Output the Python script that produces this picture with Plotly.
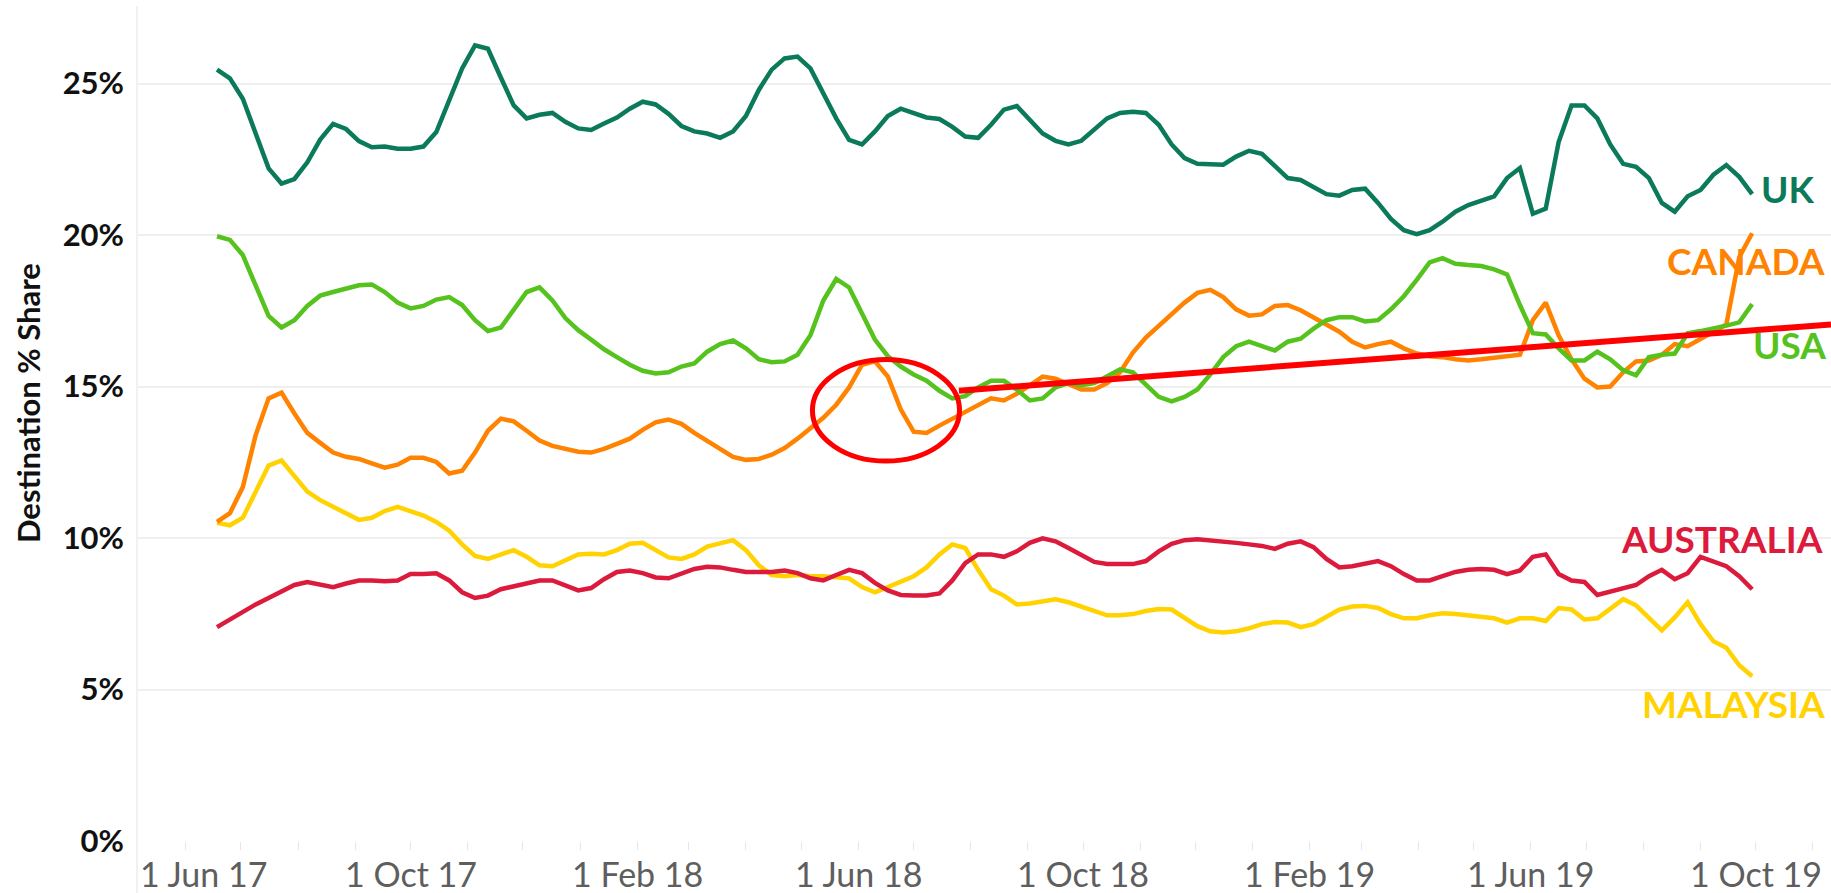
import pandas as pd
import plotly.graph_objects as go

# ---------------- data (weekly, % share) ----------------
week_start = "2017-06-18"
n_weeks = 120
dates = pd.date_range(week_start, periods=n_weeks, freq="7D")

uk = [25.46, 25.17, 24.5, 23.35, 22.2, 21.7, 21.85, 22.4, 23.15, 23.67,
      23.5, 23.1, 22.9, 22.92, 22.85, 22.85, 22.92, 23.4, 24.43, 25.5,
      26.26, 26.15, 25.2, 24.28, 23.85, 23.97, 24.03, 23.74, 23.52, 23.47,
      23.68, 23.88, 24.17, 24.4, 24.31, 24.0, 23.6, 23.42, 23.35, 23.21,
      23.42, 23.93, 24.79, 25.46, 25.83, 25.89, 25.5, 24.71, 23.85, 23.14,
      22.99, 23.42, 23.93, 24.17, 24.03, 23.88, 23.83, 23.57, 23.25, 23.21,
      23.64, 24.14, 24.26, 23.78, 23.35, 23.11, 22.99, 23.11, 23.5, 23.85,
      24.03, 24.07, 24.03, 23.64, 22.99, 22.54, 22.35, 22.32, 22.32, 22.59,
      22.78, 22.68, 22.28, 21.88, 21.82, 21.59, 21.35, 21.3, 21.49, 21.53,
      21.06, 20.53, 20.16, 20.03, 20.16, 20.44, 20.77, 20.99, 21.13, 21.28,
      21.88, 22.21, 20.7, 20.87, 23.07, 24.28, 24.28, 23.85, 22.99, 22.35,
      22.25, 21.88, 21.06, 20.77, 21.28, 21.49, 21.99, 22.31, 21.92, 21.35]

usa = [19.96, 19.84, 19.34, 18.34, 17.33, 16.95, 17.19, 17.66, 18.0, 18.12,
       18.24, 18.34, 18.37, 18.12, 17.77, 17.58, 17.66, 17.87, 17.95, 17.69,
       17.19, 16.83, 16.95, 17.52, 18.12, 18.27, 17.84, 17.26, 16.86, 16.55,
       16.23, 15.97, 15.72, 15.52, 15.43, 15.47, 15.66, 15.76, 16.15, 16.4,
       16.52, 16.26, 15.9, 15.8, 15.83, 16.05, 16.69, 17.84, 18.55, 18.27,
       17.41, 16.55, 16.0, 15.66, 15.4, 15.19, 14.86, 14.61, 14.68, 14.97,
       15.19, 15.19, 14.9, 14.54, 14.61, 14.97, 15.11, 15.04, 15.11, 15.33,
       15.57, 15.47, 15.04, 14.66, 14.51, 14.66, 14.9, 15.4, 15.97, 16.33,
       16.48, 16.33, 16.19, 16.48, 16.58, 16.91, 17.19, 17.29, 17.29, 17.15,
       17.19, 17.55, 17.98, 18.52, 19.1, 19.24, 19.05, 19.01, 18.98, 18.87,
       18.7, 17.69, 16.76, 16.72, 16.26, 15.86, 15.86, 16.15, 15.9, 15.54,
       15.37, 15.97, 16.05, 16.09, 16.76, 16.83, 16.91, 17.01, 17.12, 17.72]

canada = [10.53, 10.82, 11.68, 13.4, 14.61, 14.8, 14.11, 13.47, 13.14, 12.82,
          12.68, 12.61, 12.46, 12.32, 12.42, 12.65, 12.65, 12.51, 12.13, 12.22,
          12.82, 13.54, 13.94, 13.85, 13.54, 13.22, 13.04, 12.94, 12.85, 12.82,
          12.94, 13.11, 13.28, 13.57, 13.82, 13.91, 13.77, 13.47, 13.22, 12.97,
          12.68, 12.58, 12.61, 12.75, 12.97, 13.28, 13.61, 13.97, 14.4, 14.97,
          15.72, 15.83, 15.33, 14.25, 13.51, 13.47, 13.71, 13.94, 14.14, 14.4,
          14.61, 14.54, 14.76, 15.04, 15.33, 15.26, 15.09, 14.9, 14.9, 15.11,
          15.47, 16.12, 16.62, 17.01, 17.38, 17.77, 18.09, 18.19, 17.95, 17.55,
          17.34, 17.38, 17.66, 17.69, 17.52, 17.29, 17.05, 16.81, 16.48, 16.29,
          16.4, 16.48, 16.26, 16.09, 16.0, 15.97, 15.9, 15.86, 15.9, 15.95,
          16.0, 16.05, 17.19, 17.77, 16.69, 15.9, 15.26, 14.97, 15.0, 15.47,
          15.83, 15.86, 16.05, 16.4, 16.33, 16.55, 16.81, 17.05, 19.27, 20.06]

malaysia = [10.5, 10.42, 10.67, 11.53, 12.39, 12.56, 12.03, 11.53, 11.25, 11.03,
            10.82, 10.6, 10.67, 10.89, 11.03, 10.89, 10.74, 10.53, 10.24, 9.79,
            9.41, 9.31, 9.46, 9.6, 9.38, 9.1, 9.07, 9.27, 9.46, 9.48,
            9.46, 9.6, 9.81, 9.84, 9.6, 9.36, 9.31, 9.46, 9.72, 9.84,
            9.93, 9.6, 9.1, 8.78, 8.74, 8.78, 8.74, 8.74, 8.7, 8.67,
            8.38, 8.21, 8.38, 8.55, 8.74, 9.03, 9.46, 9.79, 9.67, 8.95,
            8.31, 8.1, 7.81, 7.84, 7.92, 7.98, 7.88, 7.74, 7.59, 7.45,
            7.45, 7.49, 7.59, 7.66, 7.64, 7.38, 7.09, 6.92, 6.88, 6.92,
            7.02, 7.16, 7.23, 7.21, 7.06, 7.16, 7.41, 7.64, 7.74, 7.76,
            7.69, 7.49, 7.35, 7.35, 7.45, 7.52, 7.49, 7.45, 7.41, 7.35,
            7.21, 7.35, 7.35, 7.26, 7.69, 7.64, 7.31, 7.35, 7.66, 7.98,
            7.78, 7.38, 6.95, 7.38, 7.88, 7.16, 6.59, 6.38, 5.8, 5.44]

australia = [7.06, 7.31, 7.59, 7.81, 8.02, 8.24, 8.45, 8.55, 8.45, 8.38,
             8.5, 8.6, 8.6, 8.57, 8.6, 8.81, 8.81, 8.84, 8.6, 8.21,
             8.02, 8.1, 8.31, 8.41, 8.5, 8.6, 8.6, 8.45, 8.27, 8.35,
             8.64, 8.88, 8.93, 8.84, 8.7, 8.67, 8.84, 8.98, 9.05, 9.03,
             8.95, 8.88, 8.88, 8.88, 8.93, 8.84, 8.67, 8.6, 8.78, 8.95,
             8.84, 8.52, 8.27, 8.12, 8.1, 8.1, 8.17, 8.6, 9.17, 9.46,
             9.46, 9.38, 9.56, 9.84, 9.99, 9.89, 9.67, 9.46, 9.21, 9.14,
             9.14, 9.14, 9.24, 9.56, 9.81, 9.93, 9.96, 9.93, 9.89, 9.84,
             9.79, 9.74, 9.64, 9.81, 9.89, 9.7, 9.31, 9.03, 9.07, 9.17,
             9.24, 9.07, 8.81, 8.6, 8.6, 8.74, 8.88, 8.95, 8.98, 8.95,
             8.81, 8.93, 9.38, 9.46, 8.81, 8.6, 8.55, 8.12, 8.24, 8.35,
             8.45, 8.74, 8.95, 8.64, 8.84, 9.38, 9.24, 9.07, 8.74, 8.31]

series_names = ["MALAYSIA", "AUSTRALIA", "CANADA", "USA", "UK"]
series_values = {"UK": uk, "USA": usa, "CANADA": canada,
                 "MALAYSIA": malaysia, "AUSTRALIA": australia}
colors = {"UK": "#0b7a5a", "USA": "#55c21e", "CANADA": "#ff8300",
          "MALAYSIA": "#ffd200", "AUSTRALIA": "#dc1a3c"}

# end-of-line label positions (value on y axis, right edge in paper units)
label_y = {"UK": 21.53, "CANADA": 19.17, "USA": 16.4, "AUSTRALIA": 9.98, "MALAYSIA": 4.55}
label_right = {"UK": 0.9911, "CANADA": 0.9976, "USA": 0.9982, "AUSTRALIA": 0.9965, "MALAYSIA": 0.9976}

x_label_dates = ["2017-06-01", "2017-10-01", "2018-02-01", "2018-06-01",
                 "2018-10-01", "2019-02-01", "2019-06-01", "2019-10-01"]
x_label_text = ["1 Jun 17", "1 Oct 17", "1 Feb 18", "1 Jun 18",
                "1 Oct 18", "1 Feb 19", "1 Jun 19", "1 Oct 19"]
month_ticks = pd.date_range("2017-06-01", "2019-11-01", freq="MS")

y_ticks = [0, 5, 10, 15, 20, 25]
y_tick_text = ["0%", "5%", "10%", "15%", "20%", "25%"]

x_range = ["2017-05-05 14:00", "2019-11-10 19:00"]
y_range = [0, 27.56]

# red highlight annotation (ellipse + trend line)
ellipse_x = ["2018-05-07 02:00", "2018-07-25 22:00"]
ellipse_y = [12.54, 15.89]
trend_x = ["2018-07-25 14:00", "2019-11-10 19:00"]
trend_y = [14.86, 17.05]

FONT = "Lato"

fig = go.Figure()
for name in series_names:
    fig.add_trace(go.Scatter(
        x=dates, y=series_values[name], mode="lines", name=name,
        line=dict(color=colors[name], width=4.5), hoverinfo="skip"))

annotations = []
for name in series_names:
    annotations.append(dict(
        x=label_right[name], xref="paper", y=label_y[name], yref="y",
        text=name, showarrow=False, xanchor="right", yanchor="middle",
        font=dict(family=FONT, size=37, color=colors[name], weight="bold")))

for i, (d, t) in enumerate(zip(x_label_dates, x_label_text)):
    annotations.append(dict(
        x=d, xref="x", y=0, yref="paper", text=t, showarrow=False,
        xanchor="center", yanchor="middle", yshift=-32,
        xshift=18 if i == 0 else 0,
        font=dict(family=FONT, size=34, color="#5e5e5e")))

annotations.append(dict(
    x=-0.0643, xref="paper", y=0.5246, yref="paper",
    text="Destination % Share", showarrow=False, textangle=-90,
    xanchor="center", yanchor="middle",
    font=dict(family=FONT, size=31, color="#111111", weight="bold")))

shapes = [
    dict(type="line", xref="paper", yref="paper", x0=0, x1=0, y0=-0.0623, y1=1,
         line=dict(color="#ececec", width=1.5), layer="below"),
    dict(type="circle", xref="x", yref="y", x0=ellipse_x[0], x1=ellipse_x[1],
         y0=ellipse_y[0], y1=ellipse_y[1], line=dict(color="#ff0000", width=5)),
    dict(type="line", xref="x", yref="y", x0=trend_x[0], x1=trend_x[1],
         y0=trend_y[0], y1=trend_y[1], line=dict(color="#ff0000", width=6)),
]

fig.update_layout(
    width=1831, height=893, autosize=False,
    margin=dict(l=137, r=0, t=6, b=52, pad=0),
    paper_bgcolor="white", plot_bgcolor="white",
    showlegend=False,
    annotations=annotations, shapes=shapes,
    font=dict(family=FONT),
)
fig.update_xaxes(
    range=x_range, showgrid=False, zeroline=False, showline=False,
    tickvals=month_ticks, ticktext=[""] * len(month_ticks),
    ticks="outside", ticklen=8, tickcolor="#e6e6e6", tickwidth=1.2,
)
fig.update_yaxes(
    range=y_range, tickvals=y_ticks, ticktext=y_tick_text,
    showgrid=True, gridcolor="#efefef", gridwidth=1.5,
    zeroline=False, showline=False, ticks="", ticklabelstandoff=12,
    tickfont=dict(family=FONT, size=31, color="#111111", weight="bold"),
)

fig.write_html(
    "out.html",
    config={"displayModeBar": False},
    post_script="document.body.style.margin='0';document.body.style.padding='0';document.body.style.overflow='hidden';",
)
